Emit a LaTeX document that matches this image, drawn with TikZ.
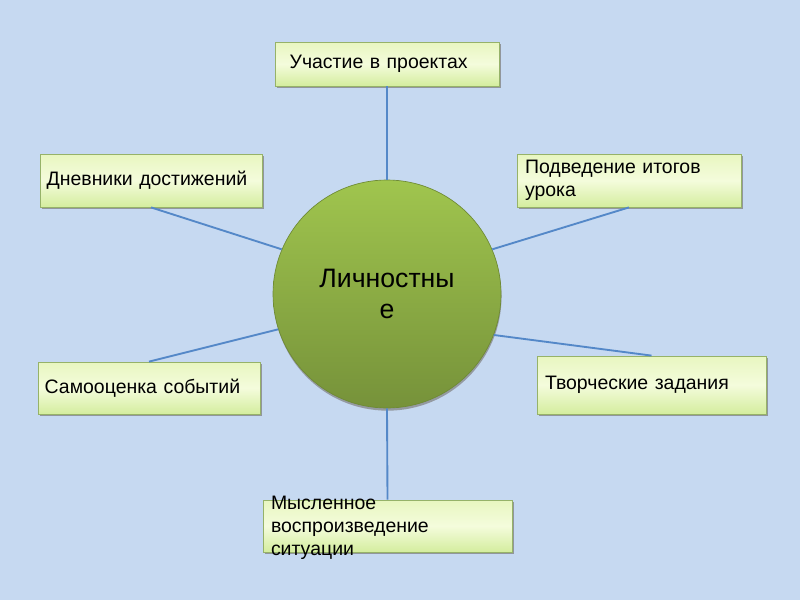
\documentclass[tikz,border=0pt]{standalone}
\usepackage{fontspec}
\setmainfont{Liberation Sans}
\usepackage{tikz}
\usetikzlibrary{shadows}
\definecolor{bgblue}{RGB}{198,217,241}
\definecolor{linkblue}{RGB}{84,136,200}
\definecolor{boxtop}{RGB}{232,246,192}
\definecolor{boxmid}{RGB}{244,252,220}
\definecolor{boxbot}{RGB}{212,237,158}
\definecolor{boxedge}{RGB}{150,178,105}
\definecolor{hubtop}{RGB}{160,197,78}
\definecolor{hubbot}{RGB}{118,146,58}
\definecolor{hubedge}{RGB}{110,138,52}
\tikzstyle{item}=[draw=boxedge,line width=0.6pt,top color=boxtop,bottom color=boxbot,middle color=boxmid,drop shadow={opacity=0.75,shadow xshift=1.2pt,shadow yshift=-1.8pt},inner xsep=5pt,minimum height=39pt,align=left,font=\fontsize{14.6}{17.6}\selectfont]
\tikzstyle{hub}=[circle,draw=hubedge,line width=0.5pt,top color=hubtop,bottom color=hubbot,drop shadow={opacity=0.7,shadow xshift=0.4pt,shadow yshift=-2pt},minimum size=171pt,inner sep=0pt,align=center,font=\fontsize{20}{23.5}\selectfont]
\tikzstyle{link}=[draw=linkblue,line width=1.4pt]

\begin{document}
\begin{tikzpicture}[x=0.75pt,y=-0.75pt]
\fill[bgblue] (0,0) rectangle (800,600);
\node [hub] (core) at (387,294) {Личностны\\е};
\node [item,text width=146pt,minimum height=33pt,inner xsep=11pt] (proj) at (387,64) {Участие в проектах};
\node [item,text width=156.5pt,minimum height=39.75pt] (diary) at (151,180.5) {Дневники достижений};
\node [item,text width=156pt,minimum height=39.75pt,inner xsep=6pt] (summary) at (629,180.5) {Подведение итогов\\урока};
\node [item,text width=156.5pt] (selfeval) at (149,388) {Самооценка событий};
\node [item,text width=159.75pt,minimum height=43.5pt,inner xsep=6pt] (tasks) at (651.5,385) {Творческие задания};
\node [item,text width=174.75pt,inner xsep=6pt,inner ysep=0pt,text height=6.75pt,text depth=32.25pt] (replay) at (387.5,526) {Мысленное\\воспроизведение\\ситуации};
\draw [link] (proj.south) -- (core.north);
\draw [link] (diary.south) -- (core.157);
\draw [link] (summary.south) -- (core.23);
\draw [link] (selfeval.north) -- (core.198);
\draw [link] (tasks.north) -- (core.-21);
\draw [link] (replay.north) -- (core.south);
\end{tikzpicture}
\end{document}
